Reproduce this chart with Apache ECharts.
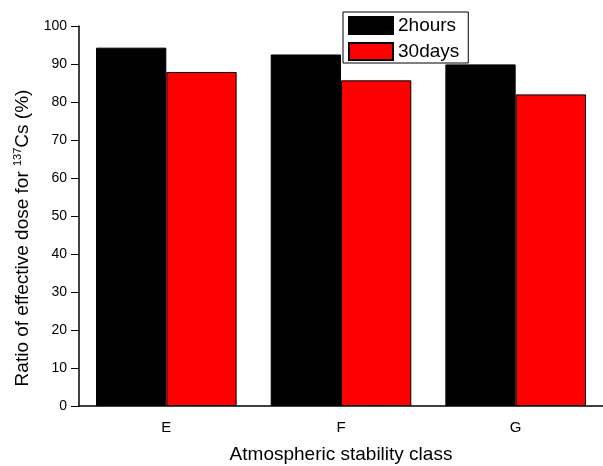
<!DOCTYPE html>
<html>
<head>
<meta charset="utf-8">
<script src="https://cdn.jsdelivr.net/npm/echarts@6/dist/echarts.min.js"></script>
<style>
  html, body { margin: 0; padding: 0; background: #fff; }
  #chart { width: 603px; height: 466px; }
</style>
</head>
<body>
<div id="chart"></div>
<script>
  // data
  const categories = ['E', 'F', 'G'];
  const hours2 = [94.3, 92.5, 89.9];
  const days30 = [87.9, 85.7, 82.0];
  const yTicks = { min: 0, max: 100, interval: 10 };

  const font = 'Liberation Sans, Arial, sans-serif';
  const chart = echarts.init(document.getElementById('chart'));

  const option = {
    backgroundColor: '#fff',
    animation: false,
    textStyle: { fontFamily: font, color: '#000' },
    grid: { left: 79, right: 0, top: 26, bottom: 60, outerBoundsMode: 'none', containLabel: false },
    legend: {
      orient: 'vertical',
      left: 343,
      top: 12,
      padding: [4, 9, 2, 5],
      itemGap: 7,
      itemWidth: 44,
      itemHeight: 17,
      borderColor: '#000',
      borderWidth: 1,
      backgroundColor: '#fff',
      icon: 'rect',
      textStyle: { fontSize: 19, lineHeight: 17, fontFamily: font, color: '#000' },
      data: ['2hours', '30days']
    },
    xAxis: {
      type: 'category',
      data: categories,
      boundaryGap: true,
      name: 'Atmospheric stability class',
      nameLocation: 'middle',
      nameGap: 39,
      nameTextStyle: { fontSize: 19, fontFamily: font, color: '#000' },
      axisLine: { lineStyle: { color: '#000', width: 1.5 } },
      axisTick: { alignWithLabel: true, length: 8, lineStyle: { color: '#000' } },
      axisLabel: { fontSize: 15, color: '#000', margin: 14 }
    },
    yAxis: {
      type: 'value',
      min: yTicks.min,
      max: yTicks.max,
      interval: yTicks.interval,
      name: 'Ratio of effective dose for {sup|137}Cs (%)',
      nameLocation: 'middle',
      nameRotate: 90,
      nameGap: 46,
      nameTextStyle: {
        fontSize: 19,
        fontFamily: font,
        color: '#000',
        padding: [0, 44, 0, 0],
        rich: {
          sup: { fontSize: 11, verticalAlign: 'top', padding: [0, 0, 10, 0], fontFamily: font, color: '#000' }
        }
      },
      splitLine: { show: false },
      axisLine: { show: true, lineStyle: { color: '#000', width: 1.5 } },
      axisTick: { show: true, length: 8, lineStyle: { color: '#000' } },
      axisLabel: { fontSize: 14, color: '#000', margin: 12 }
    },
    series: [
      {
        name: '2hours',
        type: 'bar',
        data: hours2,
        barGap: '0%',
        barCategoryGap: '19.5%',
        itemStyle: { color: '#000', borderColor: '#000', borderWidth: 1 }
      },
      {
        name: '30days',
        type: 'bar',
        data: days30,
        barGap: '0%',
        barCategoryGap: '19.5%',
        itemStyle: { color: '#ff0000', borderColor: '#000', borderWidth: 1 }
      }
    ]
  };

  chart.setOption(option);
</script>
</body>
</html>
